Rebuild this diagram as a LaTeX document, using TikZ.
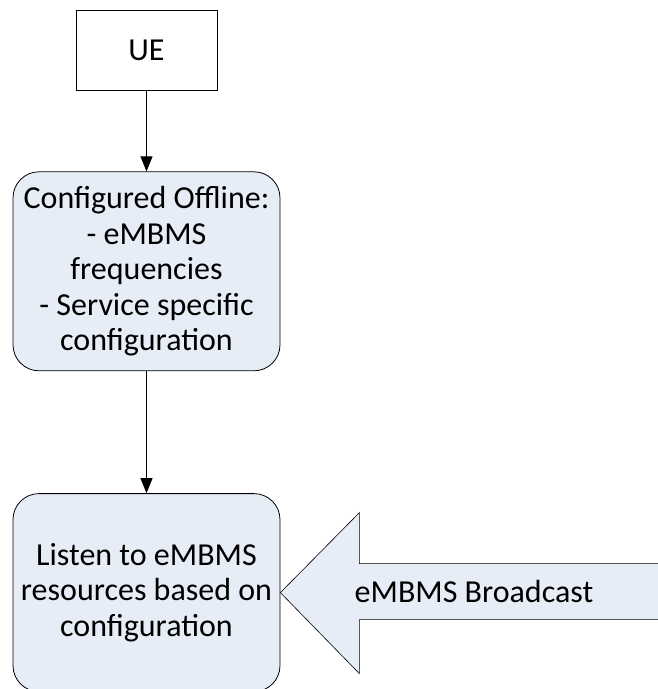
\documentclass[tikz,border=0pt]{standalone}
\usepackage{fontspec}
\setmainfont{Carlito}
\usetikzlibrary{arrows.meta, positioning}

\definecolor{boxfill}{RGB}{231,237,247}

\begin{document}
\begin{tikzpicture}[
  x=1pt, y=-1pt,
  >={Triangle[length=15pt,width=12pt]}, line width=0.8pt,
  font=\fontsize{32}{35.5}\selectfont,
  plainbox/.style={draw, rectangle, minimum width=141pt, minimum height=80pt, align=center},
  stepbox/.style={draw, fill=boxfill, rectangle, rounded corners=26pt, minimum width=267pt, align=center, inner sep=0pt},
  bcast/.style={draw, fill=boxfill, line width=0.6pt}
]
  \useasboundingbox (0,0) rectangle (657,689);

  % Bloques principales
  \node[plainbox] (ue) at (146.5,50) {UE};
  \node[stepbox, minimum height=199pt, below=81pt of ue] (cfg) {Configured Offline:\\- eMBMS\\frequencies\\- Service specific\\configuration};
  \node[stepbox, minimum height=198pt, below=122pt of cfg] (listen) {Listen to eMBMS\\resources based on\\configuration};

  % Conexiones verticales
  \draw[->] (ue) -- (cfg);
  \draw[->] (cfg) -- (listen);

  % Flecha grande de difusion
  \draw[bcast] (listen.east) -- ++(79,-80) -- ++(0,51) -- ++(307,0) -- ++(0,56) -- ++(-307,0) -- ++(0,54) -- cycle;
  \node (bc) at (474,591) {eMBMS Broadcast};

\end{tikzpicture}
\end{document}
